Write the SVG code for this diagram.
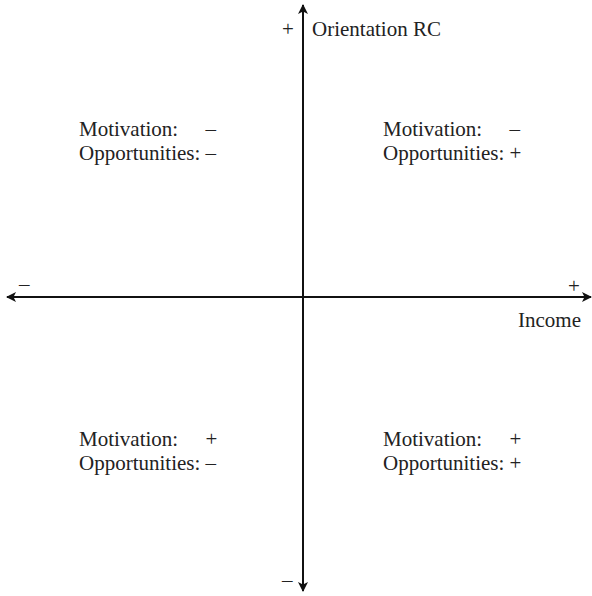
<svg xmlns="http://www.w3.org/2000/svg" width="592" height="596" viewBox="0 0 592 596">
<style>
text{font-family:"Liberation Serif","Times New Roman",serif;font-size:21px;fill:#222}
.ax{stroke:#111;stroke-width:2;fill:none}
</style>
<defs>
<marker id="ah" viewBox="0 0 10 10" refX="9" refY="5" markerWidth="5" markerHeight="5" orient="auto-start-reverse" markerUnits="strokeWidth">
<path d="M0,0 L10,5 L0,10 L2.5,5 z" fill="#111"/>
</marker>
</defs>
<rect width="592" height="596" fill="#fff"/>
<g id="connectors">
<line class="ax" x1="303" y1="591" x2="303" y2="5" marker-start="url(#ah)" marker-end="url(#ah)"/>
<line class="ax" x1="7" y1="297" x2="591" y2="297" marker-start="url(#ah)" marker-end="url(#ah)"/>
</g>
<g id="axis-labels">
<text x="282" y="36">+</text>
<text x="312" y="36">Orientation RC</text>
<text x="19" y="291">–</text>
<text x="568" y="293">+</text>
<text x="581" y="327" text-anchor="end">Income</text>
<text x="282" y="587">–</text>
</g>
<g id="q-top-left">
<text x="79" y="136">Motivation:</text><text x="205.6" y="136">–</text>
<text x="79" y="160">Opportunities: –</text>
</g>
<g id="q-top-right">
<text x="383" y="136">Motivation:</text><text x="509.6" y="136">–</text>
<text x="383" y="160">Opportunities: +</text>
</g>
<g id="q-bottom-left">
<text x="79" y="446">Motivation:</text><text x="205.6" y="446">+</text>
<text x="79" y="470">Opportunities: –</text>
</g>
<g id="q-bottom-right">
<text x="383" y="446">Motivation:</text><text x="509.6" y="446">+</text>
<text x="383" y="470">Opportunities: +</text>
</g>
</svg>
